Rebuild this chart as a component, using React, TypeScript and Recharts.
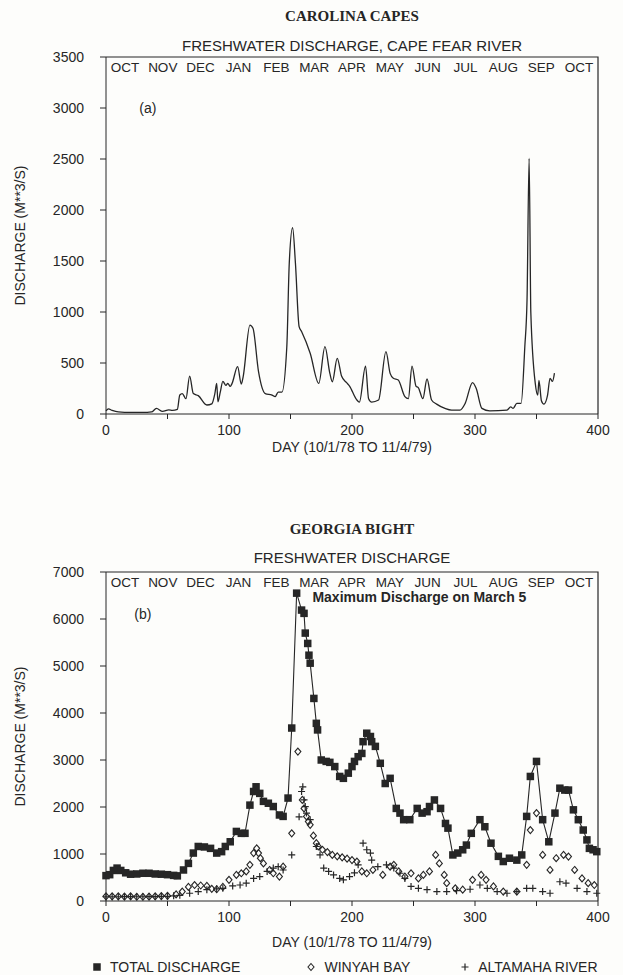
import { ComposedChart, Line, Scatter, XAxis, YAxis, ReferenceDot, Legend } from 'recharts'

const FONT = '"Liberation Sans", Arial, sans-serif'
const INK = '#262626'

// month names printed along the top of both frames
const monthLabels = ['OCT', 'NOV', 'DEC', 'JAN', 'FEB', 'MAR', 'APR', 'MAY', 'JUN', 'JUL', 'AUG', 'SEP', 'OCT']

const dayDomain = [0, 400]
const dayTicks = [0, 50, 100, 150, 200, 250, 300, 350, 400]
const capeTicks = [0, 500, 1000, 1500, 2000, 2500, 3000, 3500]
const bightTicks = [0, 1000, 2000, 3000, 4000, 5000, 6000, 7000]

// (a) Cape Fear River, daily discharge (m3/s)
const capeFearDays = [
    0, 2, 5, 10, 20, 30, 37, 41, 46, 51, 54, 58, 60, 62, 65, 68, 71, 75, 82, 86, 88.5, 90, 91, 93, 95, 97.5, 99, 101,
    102.5, 107, 110, 111.5, 117, 119.5, 124, 129.5, 135, 137.5, 140, 143, 147, 149, 151.7, 154, 157, 159, 166, 173,
    178, 182, 184, 188, 191.5, 195.6, 198, 203.6, 206, 211, 213.5, 216, 221.6, 227.6, 231, 233.6, 237.6, 243, 245.8,
    248.8, 252, 254, 257.6, 261, 264.7, 268.8, 275.6, 281, 287.8, 292, 298, 301, 305.6, 312, 326, 329, 331, 334,
    337.5, 340.5, 342.3, 344, 345.4, 349, 351, 352, 354, 356, 359, 361, 363, 364.6,
]
const capeFearFlow = [
    30, 50, 35, 20, 15, 15, 20, 55, 25, 40, 35, 45, 186, 200, 150, 372, 200, 180, 88, 100, 200, 300, 120, 220, 320,
    280, 300, 270, 300, 464, 294, 365, 872, 840, 416, 200, 186, 170, 215, 215, 660, 1480, 1826, 1480, 856, 808, 595,
    300, 660, 398, 316, 545, 372, 307, 274, 143, 117, 470, 150, 117, 137, 611, 398, 350, 333, 170, 150, 470, 274, 257,
    150, 343, 137, 97, 55, 38, 38, 104, 307, 250, 55, 30, 38, 70, 55, 104, 104, 660, 1117, 2505, 990, 300, 186, 330,
    130, 97, 186, 350, 320, 400,
]

// (b) Georgia Bight
const totalDays = [
    0, 3, 6, 9, 12, 16, 20, 25, 30, 35, 40, 45, 50, 55, 58, 63, 67, 71, 75, 80, 85, 90, 94, 97, 101, 106, 110, 113,
    117, 120, 122, 125, 128, 132, 136, 141, 144, 148, 151, 155, 159, 161, 162, 164, 165, 166, 169, 171, 172, 175, 179,
    182, 186, 190, 193, 197, 200, 202, 205, 208, 209, 212, 215, 216, 219, 223, 227, 231, 236, 239, 242, 247, 253, 257,
    261, 263, 267, 272, 276, 278, 282, 286, 290, 293, 297, 304, 308, 313, 319, 323, 328, 334, 338, 342, 345, 350, 355,
    360, 365, 369, 373, 376, 380, 384, 388, 391, 393, 396, 399,
]
const totalFlow = [
    540, 560, 650, 700, 650, 600, 570, 575, 590, 590, 575, 570, 560, 545, 535, 660, 800, 1020, 1160, 1150, 1120, 1020,
    1050, 1160, 1260, 1480, 1440, 1440, 2040, 2330, 2430, 2290, 2120, 2080, 2010, 1830, 1800, 2190, 3680, 6550, 6190,
    6120, 5700, 5480, 5230, 5060, 4310, 3780, 3640, 3000, 2970, 2950, 2860, 2650, 2610, 2720, 2860, 2970, 3070, 3140,
    3390, 3570, 3500, 3390, 3290, 2930, 2500, 2610, 1970, 1870, 1730, 1730, 1970, 1870, 1900, 2010, 2150, 1970, 1650,
    1550, 980, 1020, 1090, 1190, 1440, 1730, 1580, 1230, 950, 840, 910, 870, 980, 1800, 2650, 2970, 1730, 1260, 1870,
    2400, 2360, 2360, 1940, 1730, 1510, 1300, 1120, 1090, 1050,
]

const winyahDays = [
    0, 5, 10, 15, 20, 25, 30, 35, 40, 45, 50, 57, 62, 67, 72, 77, 82, 86, 90, 95, 100, 106, 110, 114, 117, 120, 122.5,
    124, 125.5, 128, 133, 136, 141, 144, 151, 156, 159.6, 161, 163, 164.5, 166, 168.6, 171, 172.6, 176, 180, 184, 188,
    192, 196, 200, 204, 208, 212, 217, 225, 231, 234, 238, 243, 248, 254, 258, 263, 268, 271, 275, 277, 284, 290, 298,
    305, 309, 315, 323, 334, 342, 345, 350, 355, 361, 366, 372, 376, 381, 387, 392, 397,
]
const winyahFlow = [
    100, 100, 100, 95, 100, 90, 90, 95, 100, 105, 110, 140, 200, 300, 340, 330, 320, 260, 250, 300, 450, 555, 590, 630,
    770, 1020, 1120, 1020, 910, 800, 660, 590, 520, 730, 1440, 3180, 2150, 1970, 1800, 1690, 1620, 1390, 1230, 1160,
    1090, 1040, 980, 950, 930, 900, 870, 840, 630, 590, 660, 555, 730, 770, 630, 520, 590, 480, 555, 630, 980, 800, 555,
    380, 270, 240, 450, 555, 450, 310, 200, 200, 770, 1510, 1870, 980, 660, 910, 980, 945, 660, 480, 380, 340,
]

const altamahaDays = [
    0, 5, 10, 15, 20, 25, 30, 35, 40, 45, 50, 55, 60, 68, 75, 82, 90, 95, 103, 109, 114, 120, 125, 131, 136, 140, 144,
    151, 157, 159, 160, 161, 162, 163, 166, 171, 174, 177, 181, 185, 190, 193, 198, 202, 205, 209, 212, 215, 216, 221,
    228, 234, 239, 243, 248, 254, 261, 269, 277, 285, 296, 304, 310, 318, 326, 334, 342, 347, 355, 361, 369, 374, 383,
    391, 399,
]
const altamahaFlow = [
    90, 90, 90, 95, 95, 90, 90, 95, 95, 100, 100, 110, 120, 165, 200, 240, 260, 270, 320, 340, 380, 480, 520, 630, 700,
    730, 660, 980, 1790, 2330, 2430, 2150, 2010, 1870, 1730, 1160, 980, 700, 630, 555, 480, 450, 520, 600, 770, 1230,
    1090, 1020, 870, 730, 770, 700, 590, 480, 310, 270, 240, 200, 200, 220, 250, 340, 270, 200, 165, 200, 270, 270, 200,
    165, 410, 380, 270, 200, 165,
]

const capeFearData = capeFearDays.map((day, i) => ({ day, q: capeFearFlow[i] }))
const totalData = totalDays.map((day, i) => ({ day, q: totalFlow[i] }))
const winyahData = winyahDays.map((day, i) => ({ day, q: winyahFlow[i] }))
const altamahaData = altamahaDays.map((day, i) => ({ day, q: altamahaFlow[i] }))

// the month row is spread evenly over the frame width
const monthSlots = monthLabels.map((m, i) => ({ m, day: ((i + 0.5) * dayDomain[1]) / monthLabels.length }))

// layout of the two panels
const CHART_W = 623
const Y_AXIS_W = 106
const RIGHT = 25
const TOP_PANEL = { top: 0, height: 470, marginTop: 57, xAxisH: 56, marginBottom: 0, labelDy: 38 }
const BOTTOM_PANEL = { top: 480, height: 495, marginTop: 92, xAxisH: 50, marginBottom: 24, labelDy: 46 }
const plotHeight = (p: typeof TOP_PANEL) => p.height - p.marginTop - p.xAxisH - p.marginBottom

const textStyle = { fontFamily: FONT, fontSize: 14, fill: INK }

const SquareDot = ({ cx, cy }: any) => <rect x={cx - 3.75} y={cy - 3.75} width={7.5} height={7.5} fill={INK} />
const DiamondDot = ({ cx, cy }: any) => (
    <path d={`M${cx},${cy - 3.5}L${cx + 3},${cy}L${cx},${cy + 3.5}L${cx - 3},${cy}Z`} fill="none" stroke={INK} strokeWidth={1.1} />
)
const PlusDot = ({ cx, cy }: any) => (
    <path d={`M${cx - 3.5},${cy}H${cx + 3.5}M${cx},${cy - 3.5}V${cy + 3.5}`} stroke={INK} strokeWidth={1.2} />
)

const YLabel = ({ viewBox }: any) => {
    const cx = 20
    const cy = viewBox.y + viewBox.height / 2
    return (
        <text x={cx} y={cy} transform={`rotate(-90 ${cx} ${cy})`} textAnchor="middle" dominantBaseline="central" {...textStyle}>
            DISCHARGE (M**3/S)
        </text>
    )
}

// x-axis title; also closes the plot box (top and right edges) from the axis' own box
const XLabel = ({ viewBox, panel }: any) => {
    const { x, y, width } = viewBox
    const top = y - plotHeight(panel)
    return (
        <g>
            <path d={`M${x},${top}H${x + width}V${y}`} fill="none" stroke={INK} strokeWidth={1.2} />
            <text x={x + width / 2} y={y + panel.labelDy} textAnchor="middle" {...textStyle}>
                DAY (10/1/78 TO 11/4/79)
            </text>
        </g>
    )
}

const legendItems = [
    { label: 'TOTAL DISCHARGE', icon: 'square', gap: 66 },
    { label: 'WINYAH BAY', icon: 'diamond', gap: 50 },
    { label: 'ALTAMAHA RIVER', icon: 'plus', gap: 0 },
]

const LegendIcon = ({ icon }: { icon: string }) => (
    <svg width={10} height={10} style={{ marginRight: 8 }}>
        {icon === 'square' && <SquareDot cx={5} cy={5} />}
        {icon === 'diamond' && <DiamondDot cx={5} cy={5} />}
        {icon === 'plus' && <PlusDot cx={5} cy={5} />}
    </svg>
)

const LegendRow = () => (
    <div style={{ display: 'flex', alignItems: 'center', paddingLeft: 92, fontFamily: FONT, fontSize: 14, color: INK }}>
        {legendItems.map((it) => (
            <div key={it.label} style={{ display: 'flex', alignItems: 'center', marginRight: it.gap }}>
                <LegendIcon icon={it.icon} />
                <span>{it.label}</span>
            </div>
        ))}
    </div>
)

const titleStyle = (top: number): React.CSSProperties => ({
    position: 'absolute',
    left: 152,
    width: 400,
    top,
    textAlign: 'center',
    color: INK,
})

const monthRow = (yMax: number) =>
    monthSlots.map((s, i) => (
        <ReferenceDot
            key={'m' + i}
            x={s.day}
            y={yMax}
            r={1}
            fill="none"
            stroke="none"
            ifOverflow="visible"
            label={{ value: s.m, position: 'bottom', offset: 4, ...textStyle, fontSize: 13.5 }}
        />
    ))

const dayFormat = (v: number) => (v % 100 === 0 ? String(v) : '')

export default function App() {
    return (
        <div style={{ position: 'absolute', left: 0, top: 0, width: 623, height: 975, background: '#fdfdfb' }}>
            <div style={{ ...titleStyle(8), fontFamily: '"Liberation Serif", serif', fontWeight: 'bold', fontSize: 15 }}>CAROLINA CAPES</div>
            <div style={{ ...titleStyle(37), fontFamily: FONT, fontSize: 15 }}>FRESHWATER DISCHARGE, CAPE FEAR RIVER</div>

            <div style={{ position: 'absolute', left: 0, top: TOP_PANEL.top }}>
                <ComposedChart
                    width={CHART_W}
                    height={TOP_PANEL.height}
                    data={capeFearData}
                    margin={{ top: TOP_PANEL.marginTop, right: RIGHT, bottom: TOP_PANEL.marginBottom, left: 0 }}
                >
                    <XAxis
                        dataKey="day"
                        type="number"
                        domain={dayDomain}
                        ticks={dayTicks}
                        tickFormatter={dayFormat}
                        height={TOP_PANEL.xAxisH}
                        tickSize={5}
                        tickMargin={6}
                        stroke={INK}
                        tick={textStyle}
                        label={{ content: <XLabel panel={TOP_PANEL} /> }}
                    />
                    <YAxis dataKey="q" type="number" domain={[0, 3500]} ticks={capeTicks} width={Y_AXIS_W} tickSize={6} tickMargin={16} stroke={INK} tick={textStyle} label={{ content: <YLabel /> }} />
                    {monthRow(3500)}
                    <ReferenceDot x={34} y={3000} r={1} fill="none" stroke="none" label={{ value: '(a)', position: 'center', ...textStyle }} />
                    <Line type="monotone" dataKey="q" stroke={INK} strokeWidth={1.3} dot={false} isAnimationActive={false} />
                </ComposedChart>
            </div>

            <div style={{ ...titleStyle(521), fontFamily: '"Liberation Serif", serif', fontWeight: 'bold', fontSize: 15 }}>GEORGIA BIGHT</div>
            <div style={{ ...titleStyle(549), fontFamily: FONT, fontSize: 15 }}>FRESHWATER DISCHARGE</div>

            <div style={{ position: 'absolute', left: 0, top: BOTTOM_PANEL.top }}>
                <ComposedChart
                    width={CHART_W}
                    height={BOTTOM_PANEL.height}
                    margin={{ top: BOTTOM_PANEL.marginTop, right: RIGHT, bottom: BOTTOM_PANEL.marginBottom, left: 0 }}
                >
                    <XAxis
                        dataKey="day"
                        type="number"
                        domain={dayDomain}
                        ticks={dayTicks}
                        tickFormatter={dayFormat}
                        height={BOTTOM_PANEL.xAxisH}
                        tickSize={5}
                        tickMargin={6}
                        stroke={INK}
                        tick={textStyle}
                        label={{ content: <XLabel panel={BOTTOM_PANEL} /> }}
                    />
                    <YAxis dataKey="q" type="number" domain={[0, 7000]} ticks={bightTicks} width={Y_AXIS_W} tickSize={6} tickMargin={16} stroke={INK} tick={textStyle} label={{ content: <YLabel /> }} />
                    {monthRow(7000)}
                    <ReferenceDot x={30} y={6100} r={1} fill="none" stroke="none" label={{ value: '(b)', position: 'center', ...textStyle }} />
                    <ReferenceDot
                        x={167}
                        y={6470}
                        r={1}
                        fill="none"
                        stroke="none"
                        label={{ value: 'Maximum Discharge on March 5', position: 'right', offset: 0, ...textStyle, fontSize: 14, fontWeight: 'bold' }}
                    />
                    <Scatter name="TOTAL DISCHARGE" data={totalData} line={{ stroke: INK, strokeWidth: 1.1 }} lineType="joint" shape={<SquareDot />} isAnimationActive={false} />
                    <Scatter name="WINYAH BAY" data={winyahData} shape={<DiamondDot />} isAnimationActive={false} />
                    <Scatter name="ALTAMAHA RIVER" data={altamahaData} shape={<PlusDot />} isAnimationActive={false} />
                    <Legend verticalAlign="middle" align="center" layout="horizontal" wrapperStyle={{ top: 479, left: 0, width: 623 }} content={() => <LegendRow />} />
                </ComposedChart>
            </div>
        </div>
    )
}
